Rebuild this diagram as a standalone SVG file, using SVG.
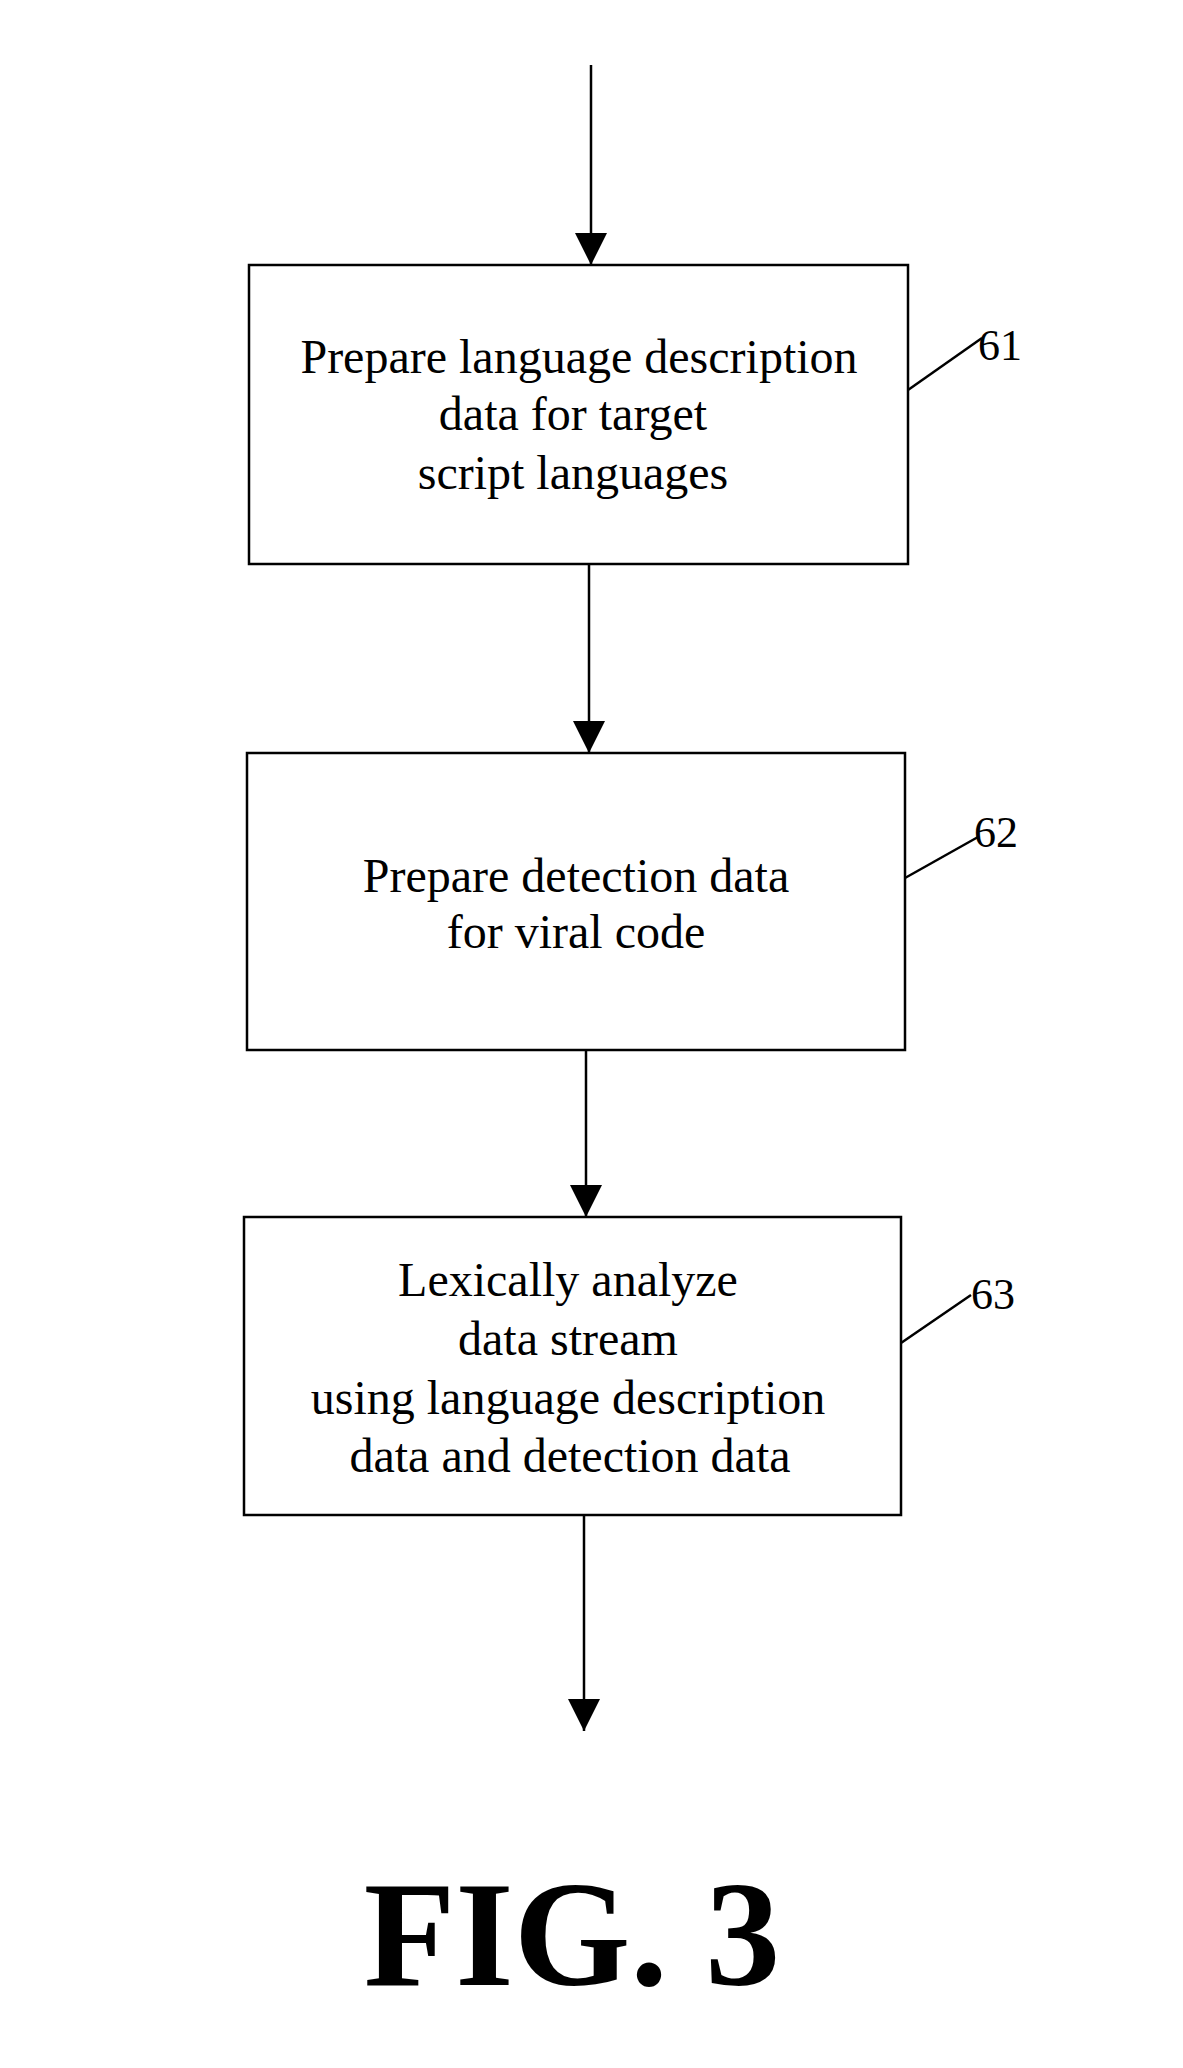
<svg xmlns="http://www.w3.org/2000/svg" width="1183" height="2068" viewBox="0 0 1183 2068">
<style>
.b{fill:#fff;stroke:#000;stroke-width:2.5}
.t{font-family:"Liberation Serif",serif;font-size:48px;text-anchor:middle;fill:#000}
.n{font-family:"Liberation Serif",serif;font-size:44px;fill:#000}
.c{stroke:#000;stroke-width:2.5;fill:none}
</style>
<defs>
<marker id="h" viewBox="0 0 10 10" markerWidth="32" markerHeight="32" refX="10" refY="5" orient="auto" markerUnits="userSpaceOnUse"><path d="M0,0 L10,5 L0,10 z" fill="#000"/></marker></defs>
<rect width="1183" height="2068" fill="#fff"/>
<g id="connectors">
<line class="c" x1="591" y1="65" x2="591" y2="265" marker-end="url(#h)"/>
<line class="c" x1="589" y1="564" x2="589" y2="753" marker-end="url(#h)"/>
<line class="c" x1="586" y1="1050" x2="586" y2="1217" marker-end="url(#h)"/>
<line class="c" x1="584" y1="1515" x2="584" y2="1731" marker-end="url(#h)"/>
<line class="c" x1="908" y1="390" x2="982" y2="338"/>
<line class="c" x1="905" y1="878" x2="978" y2="837"/>
<line class="c" x1="901" y1="1343" x2="971" y2="1295"/>
</g>
<g id="n61"><rect class="b" x="249" y="265" width="659" height="299"/>
<text class="t" x="579" y="373">Prepare language description</text>
<text class="t" x="573" y="430">data for target</text>
<text class="t" x="573" y="489">script languages</text>
<text class="n" x="978" y="360">61</text></g>
<g id="n62"><rect class="b" x="247" y="753" width="658" height="297"/>
<text class="t" x="576" y="892">Prepare detection data</text>
<text class="t" x="576" y="948">for viral code</text>
<text class="n" x="974" y="847">62</text></g>
<g id="n63"><rect class="b" x="244" y="1217" width="657" height="298"/>
<text class="t" x="568" y="1296">Lexically analyze</text>
<text class="t" x="568" y="1355">data stream</text>
<text class="t" x="568" y="1414">using language description</text>
<text class="t" x="570" y="1472">data and detection data</text>
<text class="n" x="971" y="1309">63</text></g>
<text x="572" y="1985" style="font-family:'Liberation Serif',serif;font-weight:bold;font-size:150px;text-anchor:middle">FIG. 3</text>
</svg>
